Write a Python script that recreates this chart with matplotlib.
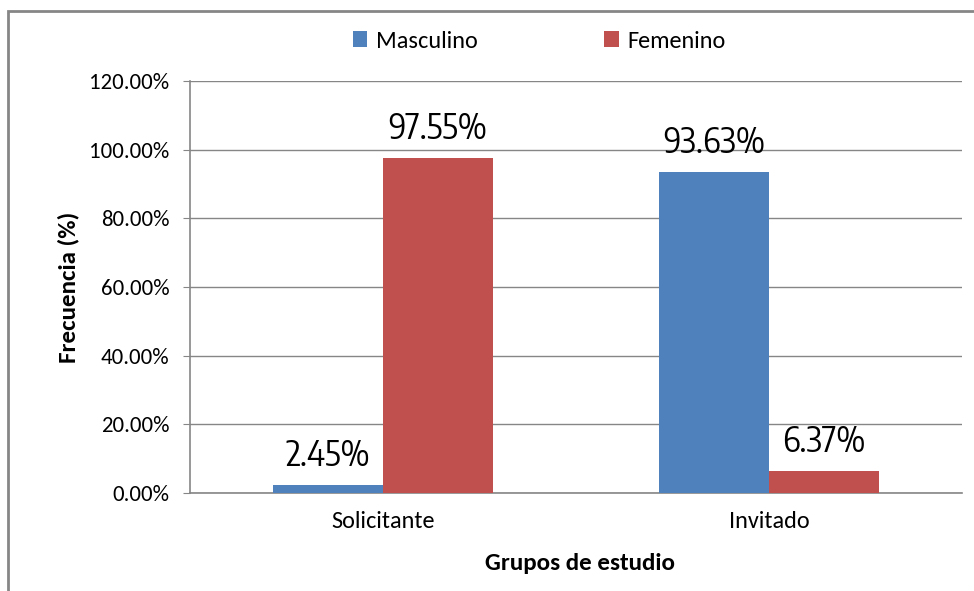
import matplotlib
matplotlib.use("Agg")
import matplotlib.pyplot as plt
from matplotlib.patches import Rectangle
import numpy as np

categories = ["Solicitante", "Invitado"]
series_names = ["Masculino", "Femenino"]
masculino = [2.45, 93.63]
femenino = [97.55, 6.37]
yticks = [0, 20, 40, 60, 80, 100, 120]

colors = ["#4F81BD", "#C0504D"]
gray = "#868686"
narrow = ["Encode Sans Condensed", "DejaVu Sans"]
calib = ["Carlito", "DejaVu Sans"]

fig = plt.figure(figsize=(9.74, 5.91), dpi=100)
ax = fig.add_axes([190/974, 1-493/591, (962-190)/974, (493-81)/591])

x = np.arange(len(categories))
w = 0.285
vals = [masculino, femenino]
offs = [-w/2, w/2]
for i, (name, v) in enumerate(zip(series_names, vals)):
    bars = ax.bar(x + offs[i], v, width=w, color=colors[i], label=name, zorder=3)
    for b, val in zip(bars, v):
        ax.annotate(f"{val:.2f}%", (b.get_x() + b.get_width()/2, b.get_height()),
                    xytext=(0, 13.5), textcoords="offset points", ha="center", va="baseline",
                    fontsize=25, family=narrow, fontweight="normal", color="black")

ax.set_xlim(-0.5, 1.5)
ax.set_ylim(0, 120)
ax.set_yticks(yticks)
ax.set_yticklabels([f"{t:.2f}%" for t in yticks], family=calib, fontsize=16.5)
ax.set_xticks(x)
ax.set_xticklabels(categories, family=calib, fontsize=17.5)
ax.tick_params(axis="y", length=5, color=gray, pad=10)
ax.tick_params(axis="x", length=0, pad=13)
ax.grid(axis="y", color=gray, linewidth=1, zorder=0)
for s in ["top", "right"]:
    ax.spines[s].set_visible(False)
for s in ["left", "bottom"]:
    ax.spines[s].set_color(gray)
    ax.spines[s].set_linewidth(1.2)

fig.text(68/974, 1-287/591, "Frecuencia (%)", rotation=90, ha="center", va="center",
         fontsize=18, fontweight="bold", family=calib)
fig.text(580/974, 1-563/591, "Grupos de estudio", ha="center", va="center",
         fontsize=18, fontweight="bold", family=calib)

fig.legend(loc="center", bbox_to_anchor=(539/974, 1-41/591), ncol=2, frameon=False,
           prop={"family": calib, "size": 17.5}, handlelength=0.6, handleheight=0.6,
           columnspacing=5.2, handletextpad=0.35)

fig.patches.append(Rectangle((8/974, -0.1), 1.2, 1.1 - 11/591, transform=fig.transFigure,
                             fill=False, edgecolor=gray, linewidth=2, zorder=0))

fig.savefig("out.png", dpi=100)
